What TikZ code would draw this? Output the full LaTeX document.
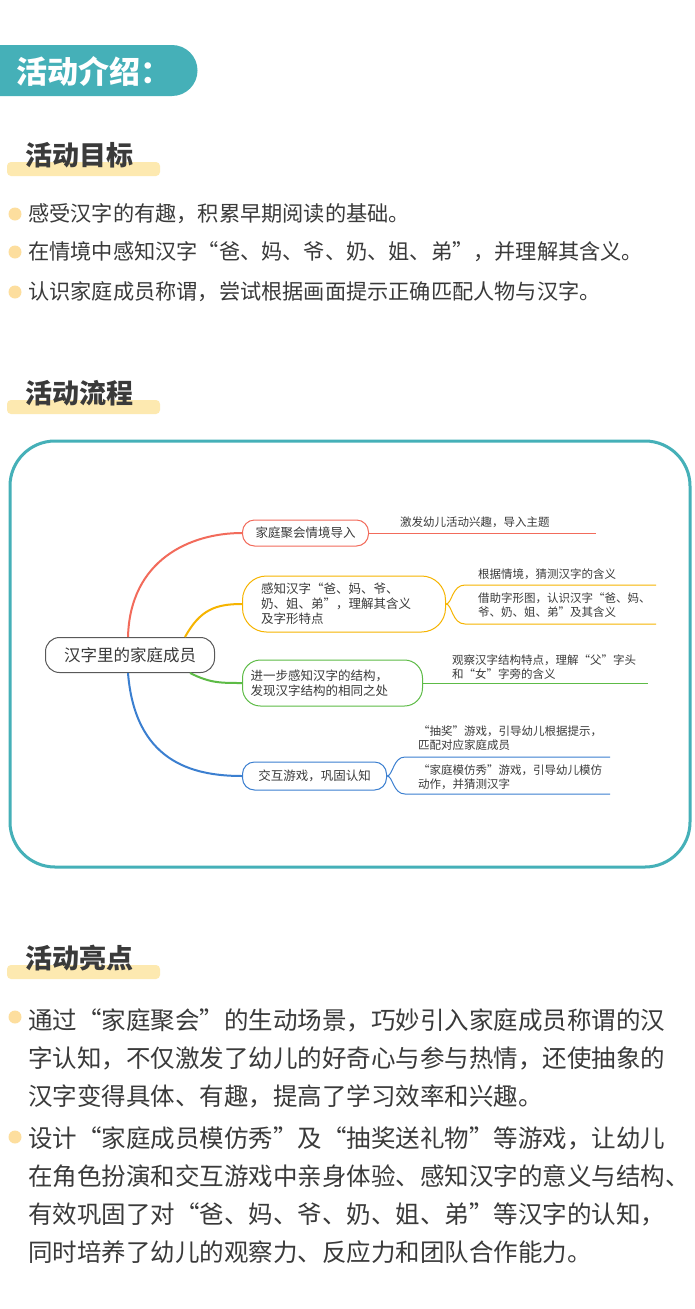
\documentclass[tikz,border=0pt]{standalone}
\usepackage{fontspec}
\setmainfont{Noto Sans CJK SC}
\usetikzlibrary{positioning}
\definecolor{teal}{HTML}{45B0B8}
\definecolor{band}{HTML}{FDE9B0}
\definecolor{ink}{HTML}{3A3A3A}
\definecolor{cred}{HTML}{F26B5B}
\definecolor{corange}{HTML}{F6B400}
\definecolor{cgreen}{HTML}{5DBB46}
\definecolor{cblue}{HTML}{3B7FD0}
\tikzset{
  head/.style={anchor=west,font=\fontsize{27}{27}\selectfont\bfseries,text=ink,inner sep=0},
  para/.style={anchor=west,font=\fontsize{21.2}{21}\selectfont,text=ink,inner sep=0},
  dot/.style={fill=band!90!orange},
  topic/.style={draw=#1,rounded corners=12,line width=1pt,font=\fontsize{12.5}{15}\selectfont,text=ink,align=left,inner sep=0,anchor=west},
  leaf/.style={anchor=west,font=\fontsize{11.5}{14}\selectfont,text=ink,align=left,inner sep=0}
}
\begin{document}
\begin{tikzpicture}[x=1pt,y=-1pt]
  \useasboundingbox (0,0) rectangle (695,1309);
  \fill[white] (0,0) rectangle (695,1309);
  % title bar
  \fill[teal] (0,45) -- (172,45) arc (-90:90:25.5) -- (0,96) -- cycle;
  \node[anchor=west,text=white,font=\fontsize{31}{31}\selectfont\bfseries,inner sep=0] (title) at (16,71) {活动介绍：};
  % section heads
  \foreach \y/\t in {155/活动目标,393/活动流程,958/活动亮点}{
    \fill[band,rounded corners=4] (7,{\y+7}) rectangle (160,{\y+21});
    \node[head] at (25,\y) {\t};
  }
  % goals
  \foreach \y/\t in {214/感受汉字的有趣，积累早期阅读的基础。,
                     252/在情境中感知汉字“爸、妈、爷、奶、姐、弟”，并理解其含义。,
                     292/认识家庭成员称谓，尝试根据画面提示正确匹配人物与汉字。}{
    \fill[dot] (15,\y) circle (6.5);
    \node[para] at (28,\y) {\t};
  }
  % flow frame
  \draw[teal,line width=3pt,rounded corners=45] (10,441) rectangle (690,867);
  \node[draw=gray!70!black,rounded corners=14,line width=1pt,minimum width=169,minimum height=35,font=\fontsize{16.5}{16}\selectfont,text=ink] (root) at (130,655) {汉字里的家庭成员};
  \node[topic=cred,minimum height=26,minimum width=126,align=center] (t1) at (242,533) {家庭聚会情境导入};
  \node[topic=corange,minimum height=56,minimum width=203,rounded corners=24,text width=166,inner xsep=18] (t2) at (242,604) {感知汉字“爸、妈、爷、\\奶、姐、弟”，理解其含义\\及字形特点};
  \node[topic=cgreen,minimum height=46,minimum width=180,rounded corners=18,text width=164,inner xsep=8] (t3) at (242,683) {进一步感知汉字的结构，\\发现汉字结构的相同之处};
  \node[topic=cblue,minimum height=28,minimum width=144,align=center] (t4) at (242,776) {交互游戏，巩固认知};
  \draw[cred,line width=2pt] ([xshift=-2]root.north) .. controls (130,560) and (190,533) .. (t1.west);
  \draw[corange,line width=2pt] ([xshift=55]root.north) .. controls (200,610) and (215,604) .. (t2.west);
  \draw[cgreen,line width=2pt] ([xshift=60]root.south) .. controls (210,683) and (220,683) .. (t3.west);
  \draw[cblue,line width=2pt] ([xshift=-2]root.south) .. controls (135,760) and (190,776) .. (t4.west);
  % leaves
  \draw[cred,line width=1pt] (t1.east) -- (596,533);
  \node[leaf] (l1) at (400,522) {激发幼儿活动兴趣，导入主题};
  \draw[corange,line width=1pt] (t2.east) .. controls (452,604) and (452,585) .. (465,585) -- (656,585);
  \draw[corange,line width=1pt] (t2.east) .. controls (452,604) and (452,624) .. (465,624) -- (656,624);
  \node[leaf] (l2a) at (478,574) {根据情境，猜测汉字的含义};
  \node[leaf] (l2b) at (478,605) {借助字形图，认识汉字“爸、妈、\\爷、奶、姐、弟”及其含义};
  \draw[cgreen,line width=1pt] (t3.east) -- (648,683);
  \node[leaf] (l3) at (452,667) {观察汉字结构特点，理解“父”字头\\和“女”字旁的含义};
  \draw[cblue,line width=1pt] (t4.east) .. controls (393,776) and (393,757) .. (405,757) -- (610,757);
  \draw[cblue,line width=1pt] (t4.east) .. controls (393,776) and (393,794) .. (405,794) -- (610,794);
  \node[leaf] (l4a) at (418,738) {“抽奖”游戏，引导幼儿根据提示，\\匹配对应家庭成员};
  \node[leaf] (l4b) at (418,777) {“家庭模仿秀”游戏，引导幼儿模仿\\动作，并猜测汉字};
  % highlights
  \fill[dot] (15,1017) circle (6.5);
  \fill[dot] (15,1137) circle (6.5);
  \foreach \y/\t in {1020/通过“家庭聚会”的生动场景，巧妙引入家庭成员称谓的汉,
                     1058/字认知，不仅激发了幼儿的好奇心与参与热情，还使抽象的,
                     1096/汉字变得具体、有趣，提高了学习效率和兴趣。,
                     1138/设计“家庭成员模仿秀”及“抽奖送礼物”等游戏，让幼儿,
                     1176/在角色扮演和交互游戏中亲身体验、感知汉字的意义与结构、,
                     1214/有效巩固了对“爸、妈、爷、奶、姐、弟”等汉字的认知，,
                     1252/同时培养了幼儿的观察力、反应力和团队合作能力。}{
    \node[para,font=\fontsize{24.5}{24}\selectfont] at (28,\y) {\t};
  }
\end{tikzpicture}
\end{document}
